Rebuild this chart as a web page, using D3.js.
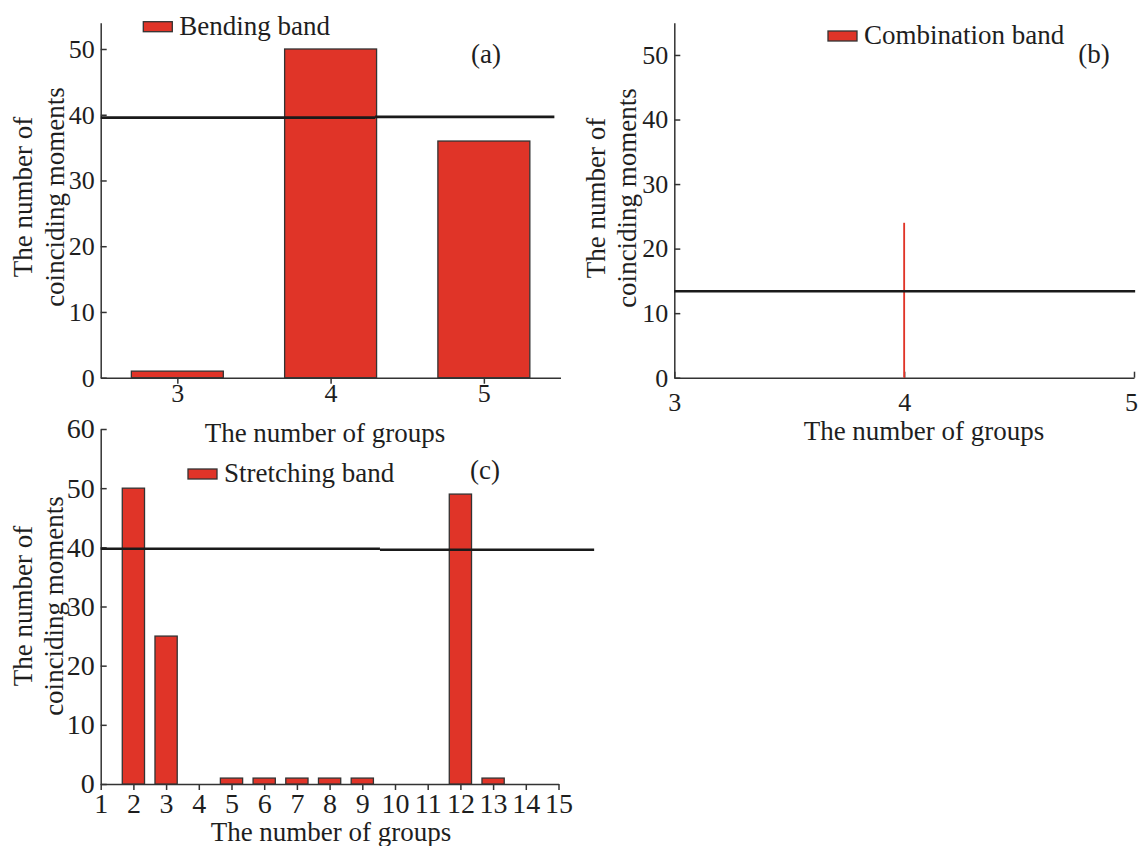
<!DOCTYPE html>
<html>
<head>
<meta charset="utf-8">
<script src="https://cdn.jsdelivr.net/npm/d3@7"></script>
<style>
  html, body { margin: 0; padding: 0; background: #fff; }
  svg { display: block; }
  svg text { font-family: "Liberation Serif", "Times New Roman", serif; }
</style>
</head>
<body>
<svg id="chart"></svg>
<script>
// ---- data ----
const bendingGroups = [3, 4, 5];
const bendingCounts = [1, 50, 36];
const bendingLevelX = [2.5, 4.29, 5.46];
const bendingLevelY = [39.56, 39.67];

const combinationGroups = [4];
const combinationCounts = [24];
const combinationLevelX = [3, 5.005];
const combinationLevelY = [13.4];

const stretchingGroups = [2, 3, 4, 5, 6, 7, 8, 9, 10, 11, 12, 13, 14, 15];
const stretchingCounts = [50, 25, 0, 1, 1, 1, 1, 1, 0, 0, 49, 1, 0, 0];
const stretchingLevelX = [1, 9.54, 16.09];
const stretchingLevelY = [39.75, 39.58];

const ticksA = { x: [3, 4, 5], y: [0, 10, 20, 30, 40, 50] };
const ticksB = { x: [3, 4, 5], y: [0, 10, 20, 30, 40, 50] };
const ticksC = { x: d3.range(1, 16), y: [0, 10, 20, 30, 40, 50, 60] };

const yLabelLines = ["The number of", "coinciding moments"];
const xLabel = "The number of groups";

// ---- style ----
const FONT = "Liberation Serif, Times New Roman, serif";
const RED = "#e03428";
const AXIS = "#333";
const INK = "#1e1e1e";
const WIDTH = 1139;

const svg = d3.select("#chart")
    .attr("width", WIDTH)
    .attr("height", 846)
    .attr("font-family", FONT);

svg.append("rect").attr("width", WIDTH).attr("height", 846).attr("fill", "#fff");

function drawPanel(p) {
    const g = svg.append("g").attr("class", "panel");

    const x = d3.scaleLinear().domain(p.xDomain).range(p.xRange);
    const y = d3.scaleLinear().domain(p.yDomain).range(p.yRange);

    // axes
    const xAxis = d3.axisBottom(x)
        .tickValues(p.ticks.x)
        .tickFormat(d3.format("d"))
        .tickSizeInner(p.xTickSize)
        .tickSizeOuter(0)
        .tickPadding(p.xTickPadding);
    const yAxis = d3.axisLeft(y)
        .tickValues(p.ticks.y)
        .tickSizeInner(-6)
        .tickSizeOuter(0)
        .tickPadding(6);

    const xg = g.append("g")
        .attr("transform", `translate(0,${y(0)})`)
        .call(xAxis);
    const yg = g.append("g")
        .attr("transform", `translate(${p.xRange[0]},0)`)
        .call(yAxis);

    [xg, yg].forEach(a => {
        a.attr("font-family", FONT).attr("font-size", p.tickFont);
        a.selectAll("path, line").attr("stroke", AXIS).attr("stroke-width", 1.5);
        a.selectAll("text").attr("fill", INK);
    });

    // keep a tick label that sits on the page edge inside the picture
    xg.selectAll(".tick text").each(function () {
        const box = this.getBBox();
        const ctm = this.getCTM();
        const right = ctm.e + box.x + box.width;
        if (right > WIDTH - 1) d3.select(this).attr("dx", WIDTH - 1 - right);
    });

    // bars
    const bars = p.groups.map((d, i) => ({ group: d, count: p.counts[i] }))
        .filter(d => d.count > 0);
    g.selectAll(".bar")
        .data(bars)
        .enter()
        .append("rect")
        .attr("class", "bar")
        .attr("x", d => x(d.group - p.barWidth / 2))
        .attr("y", d => y(d.count))
        .attr("width", d => x(d.group + p.barWidth / 2) - x(d.group - p.barWidth / 2))
        .attr("height", d => y(0) - y(d.count))
        .attr("fill", RED)
        .attr("stroke", p.barStroke ? AXIS : "none")
        .attr("stroke-width", 1.3);

    // threshold level
    const segs = p.levelY.map((v, i) => ({ x0: p.levelX[i], x1: p.levelX[i + 1], v: v }));
    g.selectAll(".level")
        .data(segs)
        .enter()
        .append("line")
        .attr("class", "level")
        .attr("x1", d => x(d.x0))
        .attr("x2", d => x(d.x1))
        .attr("y1", d => y(d.v))
        .attr("y2", d => y(d.v))
        .attr("stroke", "#1a1a1a")
        .attr("stroke-width", 2.6);

    // legend
    g.append("rect")
        .attr("x", p.legend.x)
        .attr("y", p.legend.y)
        .attr("width", 29)
        .attr("height", 10)
        .attr("fill", RED)
        .attr("stroke", AXIS)
        .attr("stroke-width", 1.3);
    g.append("text")
        .attr("x", p.legend.x + 36)
        .attr("y", p.legend.y + 13)
        .attr("font-size", 27)
        .attr("fill", INK)
        .text(p.legend.text);

    // panel tag
    g.append("text")
        .attr("x", p.tag.x)
        .attr("y", p.tag.y)
        .attr("text-anchor", "middle")
        .attr("font-size", 27)
        .attr("fill", INK)
        .text(p.tag.text);

    // axis labels
    g.append("text")
        .attr("x", p.xLabel.x)
        .attr("y", p.xLabel.y)
        .attr("text-anchor", "middle")
        .attr("font-size", 27)
        .attr("fill", INK)
        .text(xLabel);

    yLabelLines.forEach((line, i) => {
        g.append("text")
            .attr("transform", `translate(${p.yLabel.x[i]},${p.yLabel.y}) rotate(-90)`)
            .attr("text-anchor", "middle")
            .attr("font-size", 27)
            .attr("fill", INK)
            .text(line);
    });
}

// (a) bending band
drawPanel({
    groups: bendingGroups, counts: bendingCounts, barWidth: 0.6, barStroke: true,
    xDomain: [2.5, 5.5], xRange: [100.7, 560.5],
    yDomain: [0, 54], yRange: [377.7, 22.7],
    ticks: ticksA, xTickSize: 6, xTickPadding: 0, tickFont: 26,
    levelX: bendingLevelX, levelY: bendingLevelY,
    legend: { x: 143.3, y: 21.7, text: "Bending band" },
    tag: { x: 486, y: 63, text: "(a)" },
    xLabel: { x: 325, y: 442 },
    yLabel: { x: [32, 64], y: 197 }
});

// (b) combination band
drawPanel({
    groups: combinationGroups, counts: combinationCounts, barWidth: 0.008, barStroke: false,
    xDomain: [3, 5], xRange: [674.3, 1134],
    yDomain: [0, 55], yRange: [377.7, 22.7],
    ticks: ticksB, xTickSize: -6, xTickPadding: 15, tickFont: 26,
    levelX: combinationLevelX, levelY: combinationLevelY,
    legend: { x: 828, y: 31, text: "Combination band" },
    tag: { x: 1094, y: 63, text: "(b)" },
    xLabel: { x: 924, y: 440 },
    yLabel: { x: [605, 636], y: 198 }
});

// (c) stretching band
drawPanel({
    groups: stretchingGroups, counts: stretchingCounts, barWidth: 0.68, barStroke: true,
    xDomain: [1, 15], xRange: [100.7, 558.5],
    yDomain: [0, 60], yRange: [784, 429],
    ticks: ticksC, xTickSize: 6, xTickPadding: 3, tickFont: 28,
    levelX: stretchingLevelX, levelY: stretchingLevelY,
    legend: { x: 188, y: 469, text: "Stretching band" },
    tag: { x: 485, y: 479, text: "(c)" },
    xLabel: { x: 331, y: 841 },
    yLabel: { x: [32, 63], y: 606 }
});
</script>
</body>
</html>
